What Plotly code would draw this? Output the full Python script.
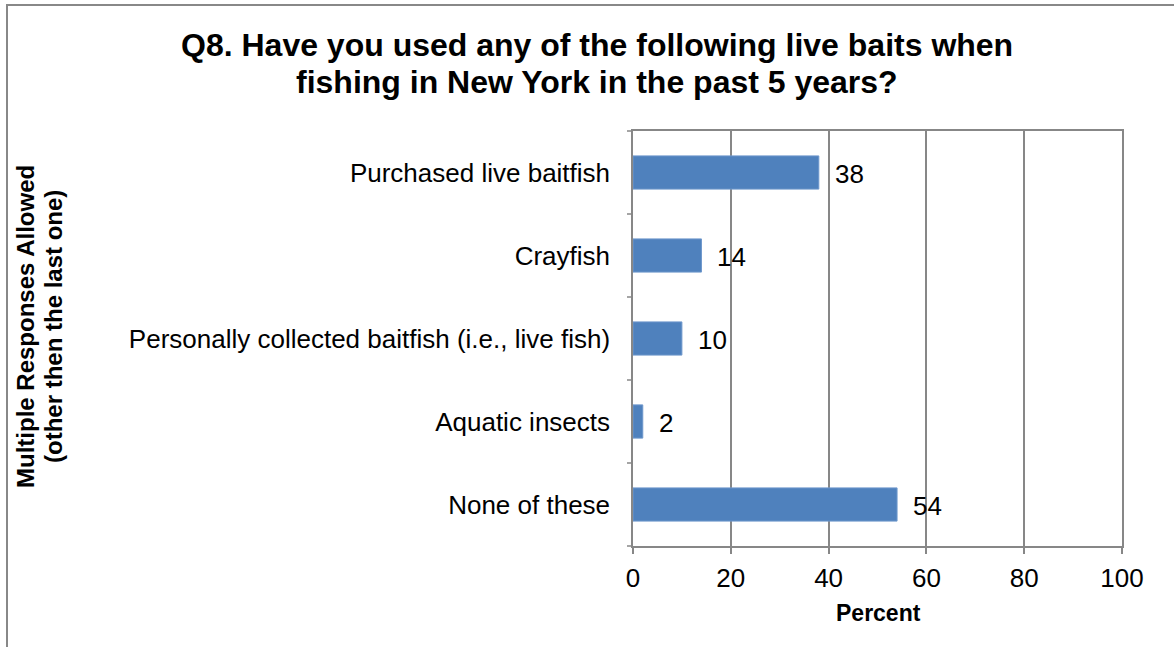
import plotly.graph_objects as go

# Live bait use among New York anglers (percent of respondents)
categories = [
    "Purchased live baitfish",
    "Crayfish",
    "Personally collected baitfish (i.e., live fish)",
    "Aquatic insects",
    "None of these",
]
percent = [38, 14, 10, 2, 54]
x_ticks = [0, 20, 40, 60, 80, 100]

title_lines = [
    "Q8. Have you used any of the following live baits when",
    "fishing in New York in the past 5 years?",
]
y_title_lines = ["Multiple Responses Allowed", "(other then the last one)"]

W, H = 1174, 647
L, R, T, B = 633, 52, 131, 101
pw, ph = W - L - R, H - T - B

def px_x(p):
    return (p - L) / pw

def px_y(p):
    return (H - B - p) / ph

grid = "#878787"
font = "Liberation Sans, Arial, sans-serif"

fig = go.Figure(
    go.Bar(
        x=percent,
        y=categories,
        orientation="h",
        width=0.4,
        marker=dict(color="#4F81BD", line=dict(color="#6E97CC", width=1)),
        hoverinfo="x+y",
    )
)

# Value labels beside each bar
for cat, val in zip(categories, percent):
    fig.add_annotation(
        x=val, y=cat, text=str(val), showarrow=False,
        xanchor="left", xshift=14, yshift=-1,
        font=dict(size=26, color="black", family=font),
    )

fig.update_layout(
    width=W, height=H,
    margin=dict(l=L, r=R, t=T, b=B),
    paper_bgcolor="white", plot_bgcolor="white",
    showlegend=False,
    font=dict(family=font, color="black"),
    bargap=0.6,
)

fig.update_xaxes(
    range=[0, 100], tickvals=x_ticks,
    showgrid=True, gridcolor=grid, gridwidth=1.5,
    showline=True, linecolor=grid, linewidth=1.5, mirror=True,
    ticks="outside", ticklen=6, tickcolor=grid, tickwidth=1.5,
    tickfont=dict(size=26, color="black"),
    ticklabelstandoff=2,
    zeroline=False, fixedrange=True,
)
fig.update_yaxes(
    categoryorder="array", categoryarray=categories, autorange="reversed",
    showgrid=False,
    showline=True, linecolor=grid, linewidth=1.5, mirror=True,
    ticks="", tickfont=dict(size=26, color="black"),
    ticklabelstandoff=16,
    fixedrange=True,
)

# Tick marks between category bands on the left axis
n = len(categories)
for i in range(n + 1):
    fig.add_shape(
        type="line", xref="paper", yref="paper",
        x0=px_x(L - 6), x1=0, y0=i / n, y1=i / n,
        line=dict(color=grid, width=1.5),
    )

# Chart title, one annotation per line
for text, yc in zip(title_lines, [45, 82]):
    fig.add_annotation(
        xref="paper", yref="paper", x=px_x(597), y=px_y(yc),
        text=f"<b>{text}</b>", showarrow=False,
        xanchor="center", yanchor="middle",
        font=dict(size=32, color="black", family=font),
    )

# Axis titles
fig.add_annotation(
    xref="paper", yref="paper", x=px_x(878), y=px_y(613),
    text="<b>Percent</b>", showarrow=False,
    xanchor="center", yanchor="middle",
    font=dict(size=23, color="black", family=font),
)
for text, xc in zip(y_title_lines, [25, 53]):
    fig.add_annotation(
        xref="paper", yref="paper", x=px_x(xc), y=px_y(327),
        text=f"<b>{text}</b>", showarrow=False, textangle=-90,
        xanchor="center", yanchor="middle",
        font=dict(size=24, color="black", family=font),
    )

# Outer chart border
fig.add_shape(
    type="rect", xref="paper", yref="paper",
    x0=px_x(7), x1=px_x(W + 20), y0=px_y(H + 20), y1=px_y(5),
    line=dict(color="#888888", width=2), fillcolor="rgba(0,0,0,0)",
    layer="below",
)

fig.write_html("out.html")
